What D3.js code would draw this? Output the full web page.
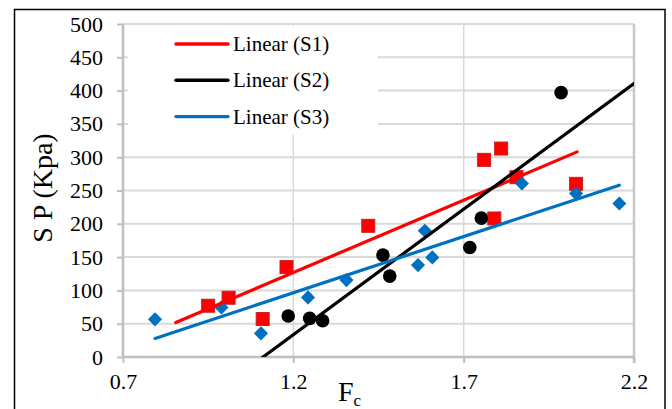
<!DOCTYPE html>
<html>
<head>
<meta charset="utf-8">
<script src="https://cdn.jsdelivr.net/npm/d3@7"></script>
<style>
  html, body { margin: 0; padding: 0; background: #fff; }
  svg { display: block; font-family: "Liberation Serif", "Times New Roman", serif; }
</style>
</head>
<body>
<div id="chart"></div>
<script>
// data
const s1X = [0.95, 1.01, 1.11, 1.18, 1.42, 1.76, 1.81, 1.79, 1.855, 2.03];
const s1Y = [77, 89, 57, 135, 197, 296, 313, 208, 270, 260];
const s2X = [1.185, 1.248, 1.286, 1.463, 1.483, 1.718, 1.752, 1.986];
const s2Y = [61.5, 58, 54.5, 153, 121.5, 164.5, 208.5, 397];
const s3X = [0.794, 0.989, 1.105, 1.243, 1.356, 1.586, 1.566, 1.608, 1.871, 2.03, 2.157];
const s3Y = [56.5, 74.5, 35.5, 89.5, 115.5, 189.5, 138, 149.5, 260.5, 245.5, 230.5];

const seriesNames = ['S1', 'S2', 'S3'];
// x span each trendline is drawn over (forecast as in the picture)
const trendFrom = [0.855, 1.0, 0.794];
const trendTo = [2.033, 2.2, 2.157];

const xTicks = [0.7, 1.2, 1.7, 2.2];
const yTicks = [0, 50, 100, 150, 200, 250, 300, 350, 400, 450, 500];

const W = 672, H = 409;
const colors = ['#ff0000', '#000000', '#0070c0'];

const svg = d3.select('#chart').append('svg')
  .attr('width', W).attr('height', H);

// outer frame
svg.append('rect')
  .attr('x', 14.5).attr('y', 9.5)
  .attr('width', 650.5).attr('height', 420)
  .attr('fill', 'none').attr('stroke', '#000').attr('stroke-width', 1.5);

const x = d3.scaleLinear().domain([0.7, 2.2]).range([123, 634]);
const y = d3.scaleLinear().domain([0, 500]).range([357, 24]);

// gridlines
svg.append('g').selectAll('line').data(yTicks.slice(1)).join('line')
  .attr('x1', x(0.7)).attr('x2', x(2.2))
  .attr('y1', d => y(d)).attr('y2', d => y(d))
  .attr('stroke', '#d9d9d9').attr('stroke-width', 2);
svg.append('g').selectAll('line').data(xTicks.slice(1, -1)).join('line')
  .attr('x1', d => x(d)).attr('x2', d => x(d))
  .attr('y1', y(0)).attr('y2', y(500))
  .attr('stroke', '#d9d9d9').attr('stroke-width', 1.5);
// right edge at 2.2
svg.append('line')
  .attr('x1', x(2.2)).attr('x2', x(2.2)).attr('y1', y(0) + 6).attr('y2', y(500))
  .attr('stroke', '#c8c8c8').attr('stroke-width', 2.5);

// axes
const yAxis = d3.axisLeft(y).tickValues(yTicks).tickSize(6).tickPadding(14);
const xAxis = d3.axisBottom(x).tickValues(xTicks).tickSize(6).tickPadding(14)
  .tickFormat(d3.format('.1f'));

const gy = svg.append('g').attr('transform', `translate(${x(0.7)},0)`).call(yAxis);
const gx = svg.append('g').attr('transform', `translate(0,${y(0)})`).call(xAxis);
[gy, gx].forEach(g => {
  g.select('.domain').attr('stroke', '#bfbfbf').attr('stroke-width', 2.5);
  g.selectAll('.tick line').attr('stroke', '#bfbfbf').attr('stroke-width', 2);
  g.selectAll('.tick text')
    .attr('font-family', '"Liberation Serif", serif')
    .attr('font-size', 22).attr('fill', '#000');
});
gy.select('.domain').attr('d', `M0,${y(0) + 1}V${y(500)}`);
gx.select('.domain').attr('d', `M${x(0.7) - 1},0H${x(2.2)}`);
gx.selectAll('.tick text').attr('dy', '0.55em');

// legend background hides the grid behind it
svg.append('rect')
  .attr('x', 128).attr('y', 26).attr('width', 250).attr('height', 109)
  .attr('fill', '#fff');

// markers
const seriesX = [s1X, s2X, s3X];
const seriesY = [s1Y, s2Y, s3Y];
const plot = svg.append('g');

plot.append('g').selectAll('rect').data(d3.range(s1X.length)).join('rect')
  .attr('x', i => x(s1X[i]) - 6.5).attr('y', i => y(s1Y[i]) - 6.5)
  .attr('width', 13).attr('height', 13)
  .attr('fill', colors[0]).attr('stroke', '#c8201e').attr('stroke-width', 1);

plot.append('g').selectAll('circle').data(d3.range(s2X.length)).join('circle')
  .attr('cx', i => x(s2X[i])).attr('cy', i => y(s2Y[i]))
  .attr('r', 6.8).attr('fill', colors[1]);

const diamond = d3.symbol().type(d3.symbolSquare).size(100);
plot.append('g').selectAll('path').data(d3.range(s3X.length)).join('path')
  .attr('d', diamond)
  .attr('transform', i => `translate(${x(s3X[i])},${y(s3Y[i])}) rotate(45)`)
  .attr('fill', colors[2]);

// linear trendlines (least squares)
function fit(xs, ys) {
  const mx = d3.mean(xs), my = d3.mean(ys);
  let sxy = 0, sxx = 0;
  xs.forEach((v, i) => { sxy += (v - mx) * (ys[i] - my); sxx += (v - mx) ** 2; });
  const slope = sxy / sxx;
  return { slope, intercept: my - slope * mx };
}

svg.append('clipPath').attr('id', 'plotclip').append('rect')
  .attr('x', x(0.7)).attr('y', y(500)).attr('width', x(2.2) - x(0.7)).attr('height', y(0) - y(500));

const trends = svg.append('g').attr('clip-path', 'url(#plotclip)');
seriesNames.forEach((name, k) => {
  const f = fit(seriesX[k], seriesY[k]);
  const pts = [trendFrom[k], trendTo[k]].map(v => [x(v), y(f.intercept + f.slope * v)]);
  trends.append('path')
    .attr('d', d3.line()(pts))
    .attr('stroke', colors[k]).attr('stroke-width', 3.2)
    .attr('stroke-linecap', 'round').attr('fill', 'none');
});

// legend
const legend = svg.append('g');
seriesNames.forEach((name, k) => {
  const ly = 44 + k * 36.3;
  legend.append('line')
    .attr('x1', 176).attr('x2', 228).attr('y1', ly).attr('y2', ly)
    .attr('stroke', colors[k]).attr('stroke-width', 3.4).attr('stroke-linecap', 'round');
  legend.append('text')
    .attr('x', 233).attr('y', ly).attr('dy', '0.33em')
    .attr('font-size', 21).attr('fill', '#000')
    .text(`Linear (${name})`);
});

// axis titles
svg.append('text')
  .attr('transform', 'translate(52,188) rotate(-90)')
  .attr('text-anchor', 'middle')
  .attr('font-size', 28).attr('fill', '#000')
  .text('S P (Kpa)');

const xt = svg.append('text')
  .attr('x', 338).attr('y', 401)
  .attr('font-size', 28).attr('fill', '#000');
xt.append('tspan').text('F');
xt.append('tspan').attr('font-size', 17).attr('dy', 5).text('c');
</script>
</body>
</html>
